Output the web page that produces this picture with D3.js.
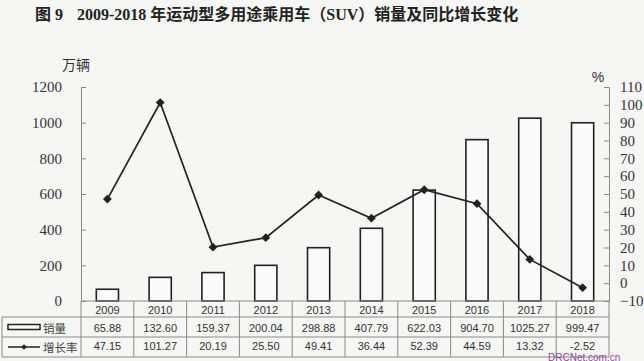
<!DOCTYPE html>
<html><head><meta charset="utf-8">
<script src="https://cdn.jsdelivr.net/npm/d3@7"></script>
<style>
html,body{margin:0;padding:0;background:#f6f6f4;}
svg{display:block;}
</style></head>
<body>
<svg id="c" width="644" height="361"></svg>
<script>
const years = ["2009","2010","2011","2012","2013","2014","2015","2016","2017","2018"];
const sales = [65.88,132.60,159.37,200.04,298.88,407.79,622.03,904.70,1025.27,999.47];
const growth = [47.15,101.27,20.19,25.50,49.41,36.44,52.39,44.59,13.32,-2.52];
const salesLabels = ["65.88","132.60","159.37","200.04","298.88","407.79","622.03","904.70","1025.27","999.47"];
const growthLabels = ["47.15","101.27","20.19","25.50","49.41","36.44","52.39","44.59","13.32","-2.52"];
const leftTicks = [0,200,400,600,800,1000,1200];
const rightTicks = [-10,0,10,20,30,40,50,60,70,80,90,100,110];

const svg = d3.select("#c");
const L = 81, R = 609, T = 87, B = 301;
const ink = "#222";
const gridCol = "#8a8a8a";

const x = d3.scaleBand().domain(years).range([L, R]).padding(0);
const xb = d3.scaleBand().domain(years).range([L, R]).paddingInner(0.58).paddingOuter(0.29);
const yL = d3.scaleLinear().domain([0,1200]).range([B, T]);
const yR = d3.scaleLinear().domain([-10,110]).range([B, T]);

// title
const title = svg.append("text").attr("x", 35).attr("y", 20)
  .attr("font-family", "'Liberation Serif','Noto Sans CJK SC',serif")
  .attr("font-weight", "bold").attr("font-size", 16).attr("fill", "#222");
title.append("tspan").text("图 9");
title.append("tspan").attr("x", 77).text("2009-2018 年运动型多用途乘用车（SUV）销量及同比增长变化");

// unit labels
svg.append("text").attr("x", 76).attr("y", 70).attr("text-anchor","middle")
  .attr("font-family","'Noto Sans CJK SC',sans-serif").attr("font-size",14).attr("fill","#333").text("万辆");
svg.append("text").attr("x", 598).attr("y", 82).attr("text-anchor","middle")
  .attr("font-family","'Liberation Sans',sans-serif").attr("font-size",14).attr("fill","#333").text("%");

// left axis
const gL = svg.append("g").attr("transform", `translate(${L},0)`)
  .call(d3.axisLeft(yL).tickValues(leftTicks).tickFormat(d3.format("d"))
    .tickSizeInner(-5).tickSizeOuter(0).tickPadding(19));
gL.select(".domain").attr("stroke", gridCol);
gL.selectAll(".tick line").attr("stroke", gridCol);
gL.selectAll(".tick text").attr("font-family","'Liberation Serif',serif").attr("font-size",15).attr("fill","#333");

// right axis
const gR = svg.append("g").attr("transform", `translate(${R},0)`)
  .call(d3.axisRight(yR).tickValues(rightTicks).tickSizeInner(-5).tickSizeOuter(0).tickPadding(11)
    .tickFormat(d => d < 0 ? "\u2212" + Math.abs(d) : d));
gR.select(".domain").attr("stroke", gridCol);
gR.selectAll(".tick line").attr("stroke", gridCol);
gR.selectAll(".tick text").attr("font-family","'Liberation Serif',serif").attr("font-size",15).attr("fill","#333");

// bars
svg.append("g").selectAll("rect").data(years).join("rect")
  .attr("x", (d) => xb(d)).attr("width", xb.bandwidth())
  .attr("y", (d,i) => yL(sales[i])).attr("height", (d,i) => yL(0) - yL(sales[i]))
  .attr("fill", "#fafafa").attr("stroke", ink).attr("stroke-width", 1.6);

// line
const line = d3.line().x((d,i) => x(years[i]) + x.bandwidth()/2).y(d => yR(d));
svg.append("path").datum(growth).attr("d", line)
  .attr("fill","none").attr("stroke", ink).attr("stroke-width", 1.7);
svg.append("g").selectAll("path").data(growth).join("path")
  .attr("d", d3.symbol(d3.symbolDiamond2, 50))
  .attr("transform", (d,i) => `translate(${x(years[i]) + x.bandwidth()/2},${yR(d)})`)
  .attr("fill", ink);

// table
const rowY = [B, 317, 337, 357];
const tbl = svg.append("g").attr("stroke", gridCol).attr("stroke-width", 1);
tbl.append("line").attr("x1", L).attr("x2", R).attr("y1", rowY[0]).attr("y2", rowY[0]);
tbl.append("line").attr("x1", 2).attr("x2", R).attr("y1", rowY[1]).attr("y2", rowY[1]);
tbl.append("line").attr("x1", 2).attr("x2", R).attr("y1", rowY[2]).attr("y2", rowY[2]);
tbl.append("line").attr("x1", 2).attr("x2", R).attr("y1", rowY[3]).attr("y2", rowY[3]);
tbl.append("line").attr("x1", 2).attr("x2", 2).attr("y1", rowY[1]).attr("y2", rowY[3]);
tbl.append("line").attr("x1", L).attr("x2", L).attr("y1", rowY[0]).attr("y2", rowY[3]);
tbl.selectAll(".v").data(years).join("line").attr("class","v")
  .attr("x1", d => x(d) + x.bandwidth()).attr("x2", d => x(d) + x.bandwidth())
  .attr("y1", rowY[0]).attr("y2", rowY[3]);

const txt = (sel) => sel.attr("font-family","'Liberation Sans',Arial,sans-serif").attr("font-size",11)
  .attr("fill","#333").attr("text-anchor","middle").attr("dominant-baseline","central");
svg.append("g").selectAll("text").data(years).join("text").call(txt)
  .attr("x", d => x(d) + x.bandwidth()/2).attr("y", (rowY[0]+rowY[1])/2 + 1).text(d => d);
svg.append("g").selectAll("text").data(salesLabels).join("text").call(txt)
  .attr("x", (d,i) => x(years[i]) + x.bandwidth()/2).attr("y", (rowY[1]+rowY[2])/2 + 1).text(d => d);
svg.append("g").selectAll("text").data(growthLabels).join("text").call(txt)
  .attr("x", (d,i) => x(years[i]) + x.bandwidth()/2).attr("y", (rowY[2]+rowY[3])/2 - 1.5).text(d => d);

// legend symbols in table
svg.append("rect").attr("x", 8).attr("y", 324.5).attr("width", 32).attr("height", 5)
  .attr("fill","#fafafa").attr("stroke", ink).attr("stroke-width", 1.5);
svg.append("text").attr("x", 43).attr("y", 328).attr("dominant-baseline","central")
  .attr("font-family","'Noto Sans CJK SC',sans-serif").attr("font-size",11.5).attr("fill","#444").text("销量");
svg.append("line").attr("x1", 8).attr("x2", 40).attr("y1", 347).attr("y2", 347)
  .attr("stroke", ink).attr("stroke-width", 1.5);
svg.append("path").attr("d", d3.symbol(d3.symbolDiamond2, 20)).attr("transform","translate(24,347)").attr("fill", ink);
svg.append("text").attr("x", 43).attr("y", 347).attr("dominant-baseline","central")
  .attr("font-family","'Noto Sans CJK SC',sans-serif").attr("font-size",11.5).attr("fill","#444").text("增长率");

// watermark (kept just below the table values so it does not cover them)
svg.append("text").attr("x", 548).attr("y", 357).attr("dominant-baseline","central")
  .attr("font-family","'Liberation Sans',Arial,sans-serif").attr("font-size",10)
  .attr("fill","#8e4a9a").text("DRCNet.com.cn");
</script>
</body></html>
